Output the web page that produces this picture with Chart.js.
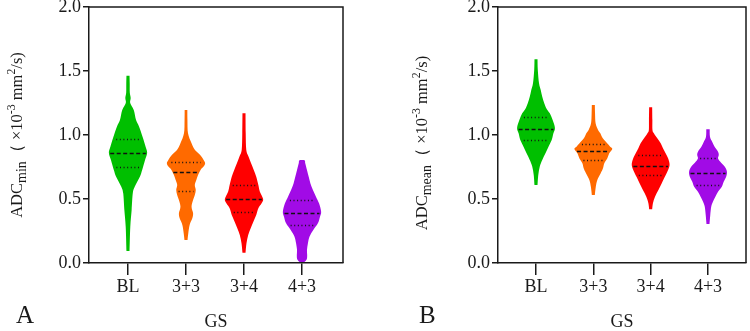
<!DOCTYPE html>
<html><head><meta charset="utf-8">
<script src="https://cdn.jsdelivr.net/npm/chart.js@4/dist/chart.umd.min.js"></script>
<style>
html,body{margin:0;padding:0;background:#fff;width:750px;height:331px;overflow:hidden;}
.panel{position:absolute;top:0;width:375px;height:331px;}
canvas{display:block;}
.ytitle{position:absolute;font-family:"Liberation Serif",serif;font-size:16.5px;color:#1a1a1a;white-space:nowrap;transform:translate(-50%,-50%) rotate(-90deg);line-height:1;}
.ytitle sub{font-size:85%;vertical-align:-0.3em;line-height:0;}
.ytitle sup{font-size:72%;vertical-align:0.55em;line-height:0;}
.letter{position:absolute;font-family:"Liberation Serif",serif;font-size:25px;color:#1a1a1a;line-height:1;}
</style></head>
<body>
<div class="panel" style="left:0"><canvas id="cA" width="375" height="331"></canvas></div>
<div class="panel" style="left:375px"><canvas id="cB" width="375" height="331"></canvas></div>
<div class="ytitle" style="left:17px;top:135px">ADC<sub>min</sub>（ ×10<sup>-3</sup> mm<sup>2</sup>/s)</div>
<div class="ytitle" style="left:422px;top:143px">ADC<sub>mean</sub>（ ×10<sup>-3</sup> mm<sup>2</sup>/s)</div>
<div class="letter" style="left:16px;top:302px">A</div>
<div class="letter" style="left:419px;top:302px">B</div>
<script>
// ---------- DATA ----------
const categories = ['BL', '3+3', '3+4', '4+3'];
const yTicks = [0, 0.5, 1.0, 1.5, 2.0];
const xTitle = 'GS';

// Panel A: ADCmin — violin profiles (value levels, relative density width)
const minBL_lv = [1.463,1.40,1.33,1.29,1.25,1.195,1.117,1.065,0.987,0.909,0.862,0.805,0.727,0.674,0.596,0.544,0.414,0.284,0.094];
const minBL_w  = [0.08,0.09,0.095,0.14,0.115,0.30,0.42,0.58,0.76,0.92,1.0,0.89,0.74,0.62,0.35,0.25,0.19,0.12,0.08];
const min33_lv = [1.195,1.117,1.013,0.935,0.883,0.844,0.805,0.779,0.753,0.727,0.6875,0.648,0.609,0.570,0.531,0.492,0.440,0.388,0.349,0.297,0.232,0.18];
const min33_w  = [0.07,0.075,0.105,0.29,0.47,0.74,0.92,1.0,0.92,0.76,0.63,0.54,0.46,0.51,0.46,0.37,0.29,0.37,0.33,0.19,0.12,0.08];
const min34_lv = [1.169,1.013,0.883,0.831,0.779,0.727,0.674,0.609,0.557,0.5,0.466,0.427,0.375,0.323,0.271,0.219,0.154,0.081];
const min34_w  = [0.08,0.09,0.12,0.24,0.37,0.51,0.64,0.75,0.83,1.0,0.92,0.75,0.64,0.49,0.35,0.22,0.13,0.08];
const min43_lv = [0.805,0.795,0.779,0.727,0.674,0.622,0.570,0.518,0.466,0.401,0.362,0.310,0.258,0.206,0.154,0.102,0.062,0.03,0.008];
const min43_w  = [0.12,0.16,0.17,0.26,0.35,0.44,0.57,0.73,0.89,1.0,0.94,0.83,0.59,0.39,0.31,0.26,0.27,0.25,0.13];
// quartiles [Q1, median, Q3]
const minQuart = [[0.747,0.862,0.972],[0.56,0.712,0.786],[0.397,0.5,0.606],[0.295,0.39,0.492]];

// Panel B: ADCmean
const meanBL_lv = [1.591,1.508,1.404,1.352,1.299,1.247,1.208,1.169,1.117,1.055,1.013,0.961,0.909,0.857,0.805,0.753,0.6875,0.609];
const meanBL_w  = [0.08,0.095,0.16,0.25,0.33,0.44,0.55,0.73,0.88,1.0,0.92,0.83,0.66,0.5,0.33,0.2,0.12,0.08];
const mean33_lv = [1.234,1.169,1.091,1.039,1.013,0.974,0.935,0.909,0.891,0.857,0.818,0.779,0.740,0.701,0.648,0.596,0.531];
const mean33_w  = [0.08,0.09,0.12,0.25,0.37,0.5,0.73,0.89,1.0,0.84,0.74,0.58,0.51,0.39,0.21,0.13,0.08];
const mean34_lv = [1.216,1.117,1.039,1.013,0.974,0.935,0.896,0.857,0.818,0.766,0.713,0.674,0.622,0.570,0.518,0.466,0.419];
const mean34_w  = [0.08,0.09,0.095,0.17,0.35,0.53,0.65,0.79,0.92,1.0,0.88,0.75,0.58,0.41,0.23,0.12,0.08];
const mean43_lv = [1.044,0.987,0.948,0.909,0.870,0.844,0.818,0.792,0.753,0.713,0.674,0.635,0.596,0.557,0.518,0.479,0.440,0.375,0.305];
const mean43_w  = [0.09,0.105,0.22,0.35,0.53,0.57,0.53,0.64,0.88,1.0,0.96,0.83,0.73,0.53,0.39,0.26,0.17,0.12,0.08];
const meanQuart = [[0.961,1.05,1.138],[0.801,0.875,0.928],[0.69,0.759,0.844],[0.612,0.707,0.818]];

const colors = ['#00BF00', '#FF6A00', '#FF0000', '#A10BE6'];

// ---------- DRAWING ----------
Chart.defaults.font.family = '"Liberation Serif", "Times New Roman", serif';
Chart.defaults.color = '#1a1a1a';

function widthAt(lv, w, q) {
  for (let k = 0; k < lv.length - 1; k++) {
    if (q <= lv[k] && q >= lv[k + 1]) {
      const t = (lv[k] - q) / (lv[k] - lv[k + 1]);
      return w[k] + t * (w[k + 1] - w[k]);
    }
  }
  return 0;
}

// Catmull-Rom spline through points (keeps the read widths)
function splineSide(ctx, pts, first) {
  if (first) ctx.moveTo(pts[0][0], pts[0][1]); else ctx.lineTo(pts[0][0], pts[0][1]);
  for (let i = 0; i < pts.length - 1; i++) {
    const p0 = pts[Math.max(i - 1, 0)], p1 = pts[i], p2 = pts[i + 1], p3 = pts[Math.min(i + 2, pts.length - 1)];
    const t = 0.5 / 3 * 2;
    const c1x = p1[0] + (p2[0] - p0[0]) * t / 2, c1y = p1[1] + (p2[1] - p0[1]) * t / 2;
    const c2x = p2[0] - (p3[0] - p1[0]) * t / 2, c2y = p2[1] - (p3[1] - p1[1]) * t / 2;
    ctx.bezierCurveTo(c1x, c1y, c2x, c2y, p2[0], p2[1]);
  }
}

function makeViolinPlugin(profiles, quarts, maxHalf) {
  return {
    id: 'violins',
    beforeDatasetsDraw(chart) {
      const ctx = chart.ctx, xs = chart.scales.x, ys = chart.scales.y;
      ctx.save();
      profiles.forEach((p, i) => {
        const cx = i + 1;
        const right = p.lv.map((v, k) => [xs.getPixelForValue(cx + p.w[k] * maxHalf), ys.getPixelForValue(v)]);
        const left = p.lv.map((v, k) => [xs.getPixelForValue(cx - p.w[k] * maxHalf), ys.getPixelForValue(v)]).reverse();
        ctx.beginPath();
        splineSide(ctx, right, true);
        splineSide(ctx, left, false);
        ctx.closePath();
        ctx.fillStyle = colors[i];
        ctx.fill();
        // quartile lines
        quarts[i].forEach((q, j) => {
          const hw = widthAt(p.lv, p.w, q) * maxHalf * (j === 1 ? 0.93 : 0.78);
          const py = Math.round(ys.getPixelForValue(q)) + 0.5;
          ctx.beginPath();
          ctx.moveTo(xs.getPixelForValue(cx - hw), py);
          ctx.lineTo(xs.getPixelForValue(cx + hw), py);
          ctx.strokeStyle = '#111';
          if (j === 1) { ctx.setLineDash([4, 2.5]); ctx.lineWidth = 1.6; }
          else { ctx.setLineDash([1, 2.6]); ctx.lineWidth = 1.3; }
          ctx.stroke();
        });
        ctx.setLineDash([]);
      });
      ctx.restore();
    },
    afterDraw(chart) {
      const {ctx, chartArea: a} = chart;
      ctx.save();
      ctx.strokeStyle = '#1a1a1a';
      ctx.lineWidth = 1.5;
      ctx.beginPath();
      ctx.moveTo(a.left, a.top);
      ctx.lineTo(a.right, a.top);
      ctx.lineTo(a.right, a.bottom);
      ctx.stroke();
      ctx.restore();
    }
  };
}

function makeChart(id, profiles, quarts, xMin, xMax, yWidth, padRight) {
  return new Chart(document.getElementById(id), {
    type: 'scatter',
    data: { datasets: categories.map((c, i) => ({ label: c, data: [], backgroundColor: colors[i] })) },
    options: {
      responsive: false,
      animation: false,
      events: [],
      layout: { padding: { left: 0, top: 7, right: padRight, bottom: 0 } },
      plugins: { legend: { display: false }, tooltip: { enabled: false } },
      scales: {
        x: {
          type: 'linear', min: xMin, max: xMax,
          afterBuildTicks: s => { s.ticks = categories.map((c, i) => ({ value: i + 1 })); },
          afterFit: s => { s.height = 68; s.paddingLeft = 0; s.paddingRight = 0; },
          ticks: { callback: v => categories[Math.round(v) - 1], font: { size: 18 }, padding: 1, maxRotation: 0, color: '#1a1a1a' },
          grid: { drawOnChartArea: false, drawTicks: true, tickLength: 12, color: '#1a1a1a', lineWidth: 1.5 },
          border: { display: true, color: '#1a1a1a', width: 1.5 },
          title: { display: true, text: xTitle, font: { size: 18, lineHeight: 1 }, padding: 0, color: '#1a1a1a' }
        },
        y: {
          type: 'linear', min: 0, max: 2,
          afterBuildTicks: s => { s.ticks = yTicks.map(v => ({ value: v })); },
          afterFit: s => { s.width = yWidth; s.paddingTop = 0; s.paddingBottom = 0; },
          ticks: { callback: v => v.toFixed(1), font: { size: 18 }, padding: 2, color: '#1a1a1a' },
          grid: { drawOnChartArea: false, drawTicks: true, tickLength: 6, color: '#1a1a1a', lineWidth: 1.5 },
          border: { display: true, color: '#1a1a1a', width: 1.5 }
        }
      }
    },
    plugins: [makeViolinPlugin(profiles, quarts, 0.33)]
  });
}

makeChart('cA', [
  { lv: minBL_lv, w: minBL_w }, { lv: min33_lv, w: min33_w },
  { lv: min34_lv, w: min34_w }, { lv: min43_lv, w: min43_w }
], minQuart, 0.3276, 4.707, 89, 32);

makeChart('cB', [
  { lv: meanBL_lv, w: meanBL_w }, { lv: mean33_lv, w: mean33_w },
  { lv: mean34_lv, w: mean34_w }, { lv: mean43_lv, w: mean43_w }
], meanQuart, 0.337, 4.663, 123, 4);
</script>
</body></html>
